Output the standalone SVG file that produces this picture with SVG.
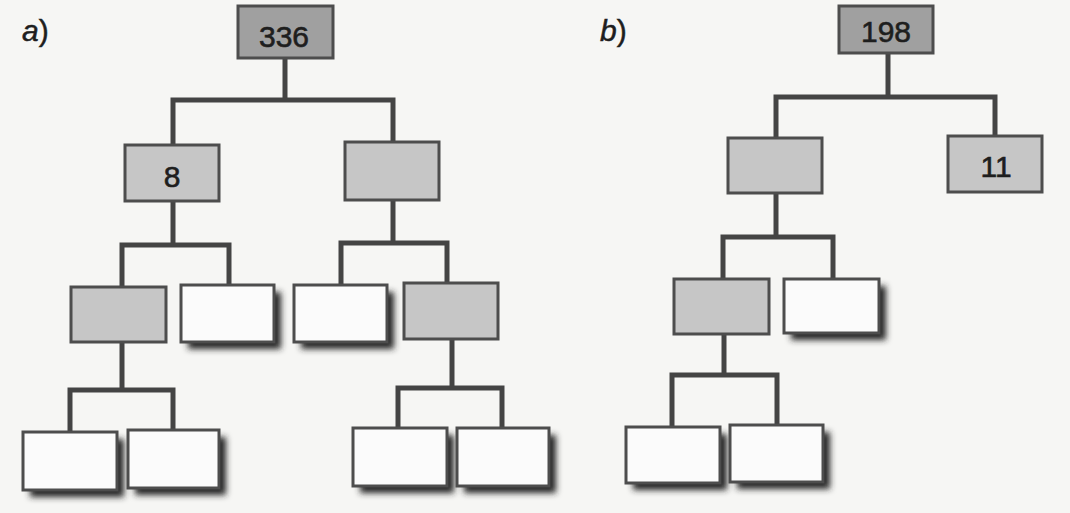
<svg xmlns="http://www.w3.org/2000/svg" width="1070" height="513" viewBox="0 0 1070 513">
  <style>
    .lbl { font-family: "Liberation Sans", Arial, sans-serif; font-size: 30px; fill: #1e1e1e; stroke: #1e1e1e; stroke-width: 0.5; }
    .num { font-family: "Liberation Sans", Arial, sans-serif; font-size: 30px; fill: #1e1e1e; stroke: #1e1e1e; stroke-width: 0.6; text-anchor: middle; }
    .box { stroke: #4d4d4d; stroke-width: 3; }
    .dark { fill: #a0a0a0; }
    .mid { fill: #c6c6c6; }
    .white { fill: #fbfbfb; }
    .shadow { fill: #262626; filter: url(#blur); }
    .wire { fill: none; stroke: #444; stroke-width: 5; stroke-linejoin: miter; }
  </style>
  <defs>
    <filter id="blur" x="-20%" y="-20%" width="140%" height="140%">
      <feGaussianBlur stdDeviation="3"/>
    </filter>
  </defs>
  <rect width="1070" height="513" fill="#f6f6f4"/>

  <!-- panel labels -->
  <text class="lbl" x="22" y="41"><tspan font-style="italic">a</tspan>)</text>
  <text class="lbl" x="600" y="41"><tspan font-style="italic">b</tspan>)</text>

  <!-- connectors -->
  <g id="connectors">
    <!-- tree a -->
    <path class="wire" d="M285 58 V100 M173 145 V100 H393 V142"/>
    <path class="wire" d="M173 201 V245 M122 287 V245 H229 V285"/>
    <path class="wire" d="M393 200 V243 M341 285 V243 H447 V283"/>
    <path class="wire" d="M122 342 V390 M70 432 V390 H173 V430"/>
    <path class="wire" d="M452 339 V388 M398 428 V388 H502 V428"/>
    <!-- tree b -->
    <path class="wire" d="M888 53 V97 M776 138 V97 H995 V136"/>
    <path class="wire" d="M776 193 V237 M723 279 V237 H833 V279"/>
    <path class="wire" d="M724 334 V375 M672 427 V375 H777 V425"/>
  </g>

  <!-- tree a nodes -->
  <g id="a-root"><rect class="box dark" x="238" y="6" width="95" height="52"/><text class="num" x="284" y="47">336</text></g>
  <g id="a-l1"><rect class="box mid" x="125" y="145" width="94" height="56"/><text class="num" x="172" y="187">8</text></g>
  <g id="a-r1"><rect class="box mid" x="345" y="142" width="94" height="58"/></g>
  <g id="a-ll2"><rect class="box mid" x="71" y="287" width="95" height="55"/></g>
  <g id="a-lr2"><rect class="shadow" x="188" y="292" width="93" height="57"/><rect class="box white" x="181" y="285" width="93" height="57"/></g>
  <g id="a-rl2"><rect class="shadow" x="301" y="292" width="93" height="57"/><rect class="box white" x="294" y="285" width="93" height="57"/></g>
  <g id="a-rr2"><rect class="box mid" x="404" y="283" width="94" height="56"/></g>
  <g id="a-lll3"><rect class="shadow" x="30" y="439" width="94" height="58"/><rect class="box white" x="23" y="432" width="94" height="58"/></g>
  <g id="a-llr3"><rect class="shadow" x="135" y="437" width="91" height="58"/><rect class="box white" x="128" y="430" width="91" height="58"/></g>
  <g id="a-rrl3"><rect class="shadow" x="360" y="435" width="94" height="58"/><rect class="box white" x="353" y="428" width="94" height="58"/></g>
  <g id="a-rrr3"><rect class="shadow" x="464" y="435" width="92" height="58"/><rect class="box white" x="457" y="428" width="92" height="58"/></g>

  <!-- tree b nodes -->
  <g id="b-root"><rect class="box dark" x="839" y="6" width="94" height="47"/><text class="num" x="886" y="42">198</text></g>
  <g id="b-l1"><rect class="box mid" x="728" y="138" width="94" height="55"/></g>
  <g id="b-r1"><rect class="box mid" x="948" y="136" width="94" height="56"/><text class="num" x="996" y="177">11</text></g>
  <g id="b-ll2"><rect class="box mid" x="674" y="279" width="95" height="55"/></g>
  <g id="b-lr2"><rect class="shadow" x="791" y="286" width="95" height="54"/><rect class="box white" x="784" y="279" width="95" height="54"/></g>
  <g id="b-lll3"><rect class="shadow" x="633" y="434" width="94" height="56"/><rect class="box white" x="626" y="427" width="94" height="56"/></g>
  <g id="b-llr3"><rect class="shadow" x="737" y="432" width="93" height="57"/><rect class="box white" x="730" y="425" width="93" height="57"/></g>
</svg>
